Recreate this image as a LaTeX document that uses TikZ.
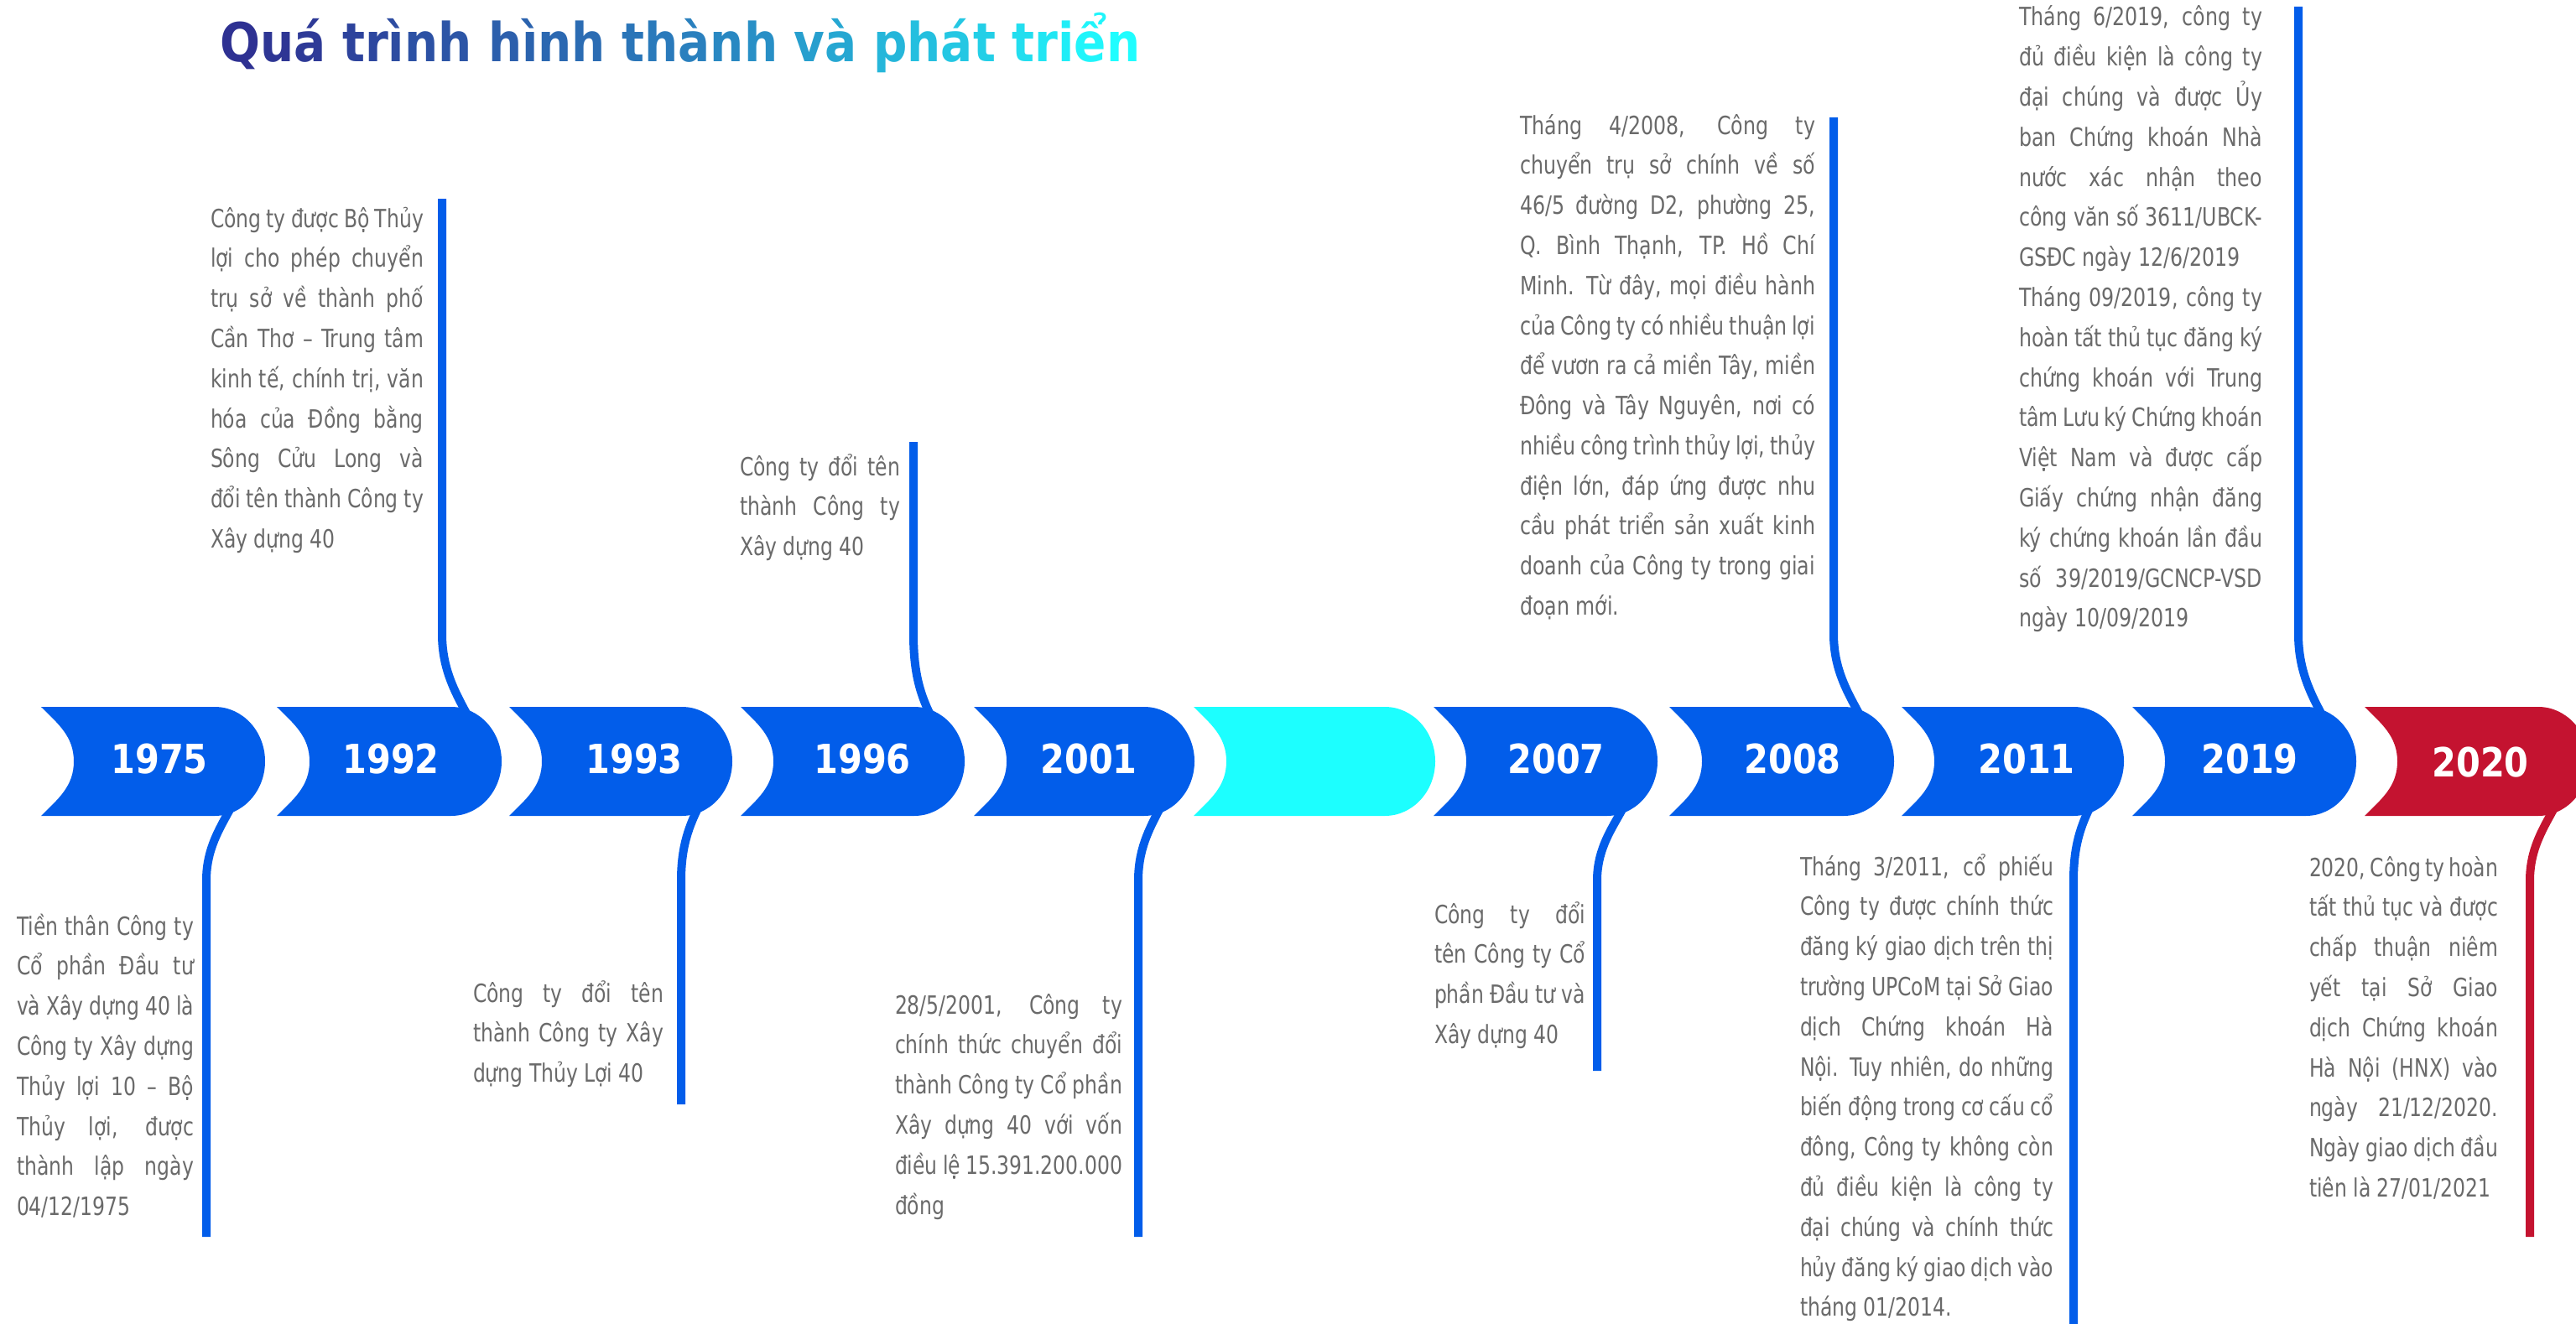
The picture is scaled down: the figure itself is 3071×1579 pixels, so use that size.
\documentclass[tikz,border=0pt]{standalone}
\usepackage{fontspec}
\newfontfamily\bodyT{DejaVu Sans Condensed}[FakeStretch=0.87]
\newfontfamily\bodyV{DejaVu Sans}[FakeStretch=0.79]
\newfontfamily\yearF{DejaVu Sans Condensed Bold}[FakeStretch=0.96]
\newfontfamily\titleF{DejaVu Sans Condensed Bold}[FakeStretch=0.98]
\definecolor{tabblue}{RGB}{2,93,234}
\definecolor{tabcyan}{RGB}{28,255,255}
\definecolor{tabred}{RGB}{196,19,48}
\definecolor{txtgray}{RGB}{106,106,106}
\definecolor{tA}{RGB}{46,49,146}
\definecolor{tM}{RGB}{42,124,188}
\definecolor{tC}{RGB}{31,253,255}
\newcommand\J[1]{\hbox to\hsize{#1}}
\newcommand\E[1]{\hbox{#1}}
\newcommand\para[2]{\vtop{\hsize=#1\relax\baselineskip=47.8pt\relax\lineskiplimit=-100pt\relax #2}}
% tab shape: #1 left corner x, #2 right bulge x, #3 colour
\newcommand\tabshape[3]{\fill[#3] (#1,843) -- ({#2-60},843) .. controls ({#2-27},843) and (#2,872) .. (#2,908) .. controls (#2,944) and ({#2-27},973) .. ({#2-60},973) -- (#1,973) .. controls ({#1+20},953) and ({#1+39},938) .. ({#1+39},908) .. controls ({#1+39},878) and ({#1+20},863) .. (#1,843) -- cycle;}
\tikzset{
  con/.style={line width=10pt},
  yr/.style={anchor=center, inner sep=0pt, text=white, font=\fontsize{48}{50}\yearF},
  txtT/.style={anchor=base west, inner sep=0pt, outer sep=0pt, text=txtgray, font=\fontsize{30}{47.8}\bodyT},
  txtV/.style={anchor=base west, inner sep=0pt, outer sep=0pt, text=txtgray, font=\fontsize{30}{47.8}\bodyV},
}
\begin{document}
\begin{tikzpicture}[x=1pt,y=-1pt]
\useasboundingbox (0,0) rectangle (3071,1579);
\fill[white] (0,0) rectangle (3071,1579);
\begin{scope}
\clip (0,0) rectangle (3071,1579);
% tabs
\tabshape{49}{316}{tabblue}
\tabshape{330}{598}{tabblue}
\tabshape{607}{873}{tabblue}
\tabshape{883}{1150}{tabblue}
\tabshape{1161}{1424}{tabblue}
\tabshape{1423}{1711}{tabcyan}
\tabshape{1709}{1976}{tabblue}
\tabshape{1990}{2258}{tabblue}
\tabshape{2267}{2532}{tabblue}
\tabshape{2542}{2809}{tabblue}
\tabshape{2819}{3086}{tabred}
% connector ends
\coordinate (e1975) at (246,1475);
\coordinate (e1992) at (527,237);
\coordinate (e1993) at (812,1317);
\coordinate (e1996) at (1089,527);
\coordinate (e2001) at (1357,1475);
\coordinate (e2007) at (1904,1277);
\coordinate (e2008) at (2186,140);
\coordinate (e2011) at (2472,1590);
\coordinate (e2019) at (2740,8);
\coordinate (e2020) at (3016,1475);
% down connectors
\draw[con,tabblue] (278,958) .. controls (264,985) and (246,1010) .. (246,1050) -- (e1975);
\draw[con,tabblue] (835,958) .. controls (821,985) and (812,1010) .. (812,1050) -- (e1993);
\draw[con,tabblue] (1386,958) .. controls (1372,985) and (1357,1010) .. (1357,1050) -- (e2001);
\draw[con,tabblue] (1938,958) .. controls (1924,985) and (1904,1010) .. (1904,1050) -- (e2007);
\draw[con,tabblue] (2494,958) .. controls (2480,985) and (2472,1010) .. (2472,1050) -- (e2011);
\draw[con,tabred] (3048,958) .. controls (3034,985) and (3016,1010) .. (3016,1050) -- (e2020);
% up connectors
\draw[con,tabblue] (560,858) .. controls (544,828) and (527,800) .. (527,756) -- (e1992);
\draw[con,tabblue] (1112,858) .. controls (1096,828) and (1089,800) .. (1089,756) -- (e1996);
\draw[con,tabblue] (2220,858) .. controls (2204,828) and (2186,800) .. (2186,756) -- (e2008);
\draw[con,tabblue] (2771,858) .. controls (2755,828) and (2740,800) .. (2740,756) -- (e2019);
\end{scope}
% years
\node[yr] (y1975) at (190,905) {1975};
\node[yr] (y1992) at (466,905) {1992};
\node[yr] (y1993) at (756,905) {1993};
\node[yr] (y1996) at (1028,905) {1996};
\node[yr] (y2001) at (1298,905) {2001};
\node[yr] (y2007) at (1855,905) {2007};
\node[yr] (y2008) at (2137,905) {2008};
\node[yr] (y2011) at (2416,905) {2011};
\node[yr] (y2019) at (2682,905) {2019};
\node[yr] (y2020) at (2957,909) {2020};
% title
\node[anchor=base west, inner sep=0pt, font=\fontsize{64}{70}\titleF] (title) at (262,74) {\textcolor{tA}{Q}\textcolor{tM!6!tA}{u}\textcolor{tM!12!tA}{á} \textcolor{tM!24!tA}{t}\textcolor{tM!30!tA}{r}\textcolor{tM!36!tA}{ì}\textcolor{tM!42!tA}{n}\textcolor{tM!48!tA}{h} \textcolor{tM!61!tA}{h}\textcolor{tM!67!tA}{ì}\textcolor{tM!73!tA}{n}\textcolor{tM!79!tA}{h} \textcolor{tM!91!tA}{t}\textcolor{tM!97!tA}{h}\textcolor{tC!3!tM}{à}\textcolor{tC!9!tM}{n}\textcolor{tC!15!tM}{h} \textcolor{tC!27!tM}{v}\textcolor{tC!33!tM}{à} \textcolor{tC!45!tM}{p}\textcolor{tC!52!tM}{h}\textcolor{tC!58!tM}{á}\textcolor{tC!64!tM}{t} \textcolor{tC!76!tM}{t}\textcolor{tC!82!tM}{r}\textcolor{tC!88!tM}{i}\textcolor{tC!94!tM}{ể}\textcolor{tC}{n}};
% text blocks
\node[txtT] (t1975) at (20,1115) {\para{211pt}{%
\J{Tiền thân Công ty}
\J{Cổ phần Đầu tư}
\J{và Xây dựng 40 là}
\J{Công ty Xây dựng}
\J{Thủy lợi 10 – Bộ}
\J{Thủy lợi, được}
\J{thành lập ngày}
\E{04/12/1975}}};
\node[txtT] (t1992) at (251,271) {\para{254pt}{%
\J{Công ty được Bộ Thủy}
\J{lợi cho phép chuyển}
\J{trụ sở về thành phố}
\J{Cần Thơ – Trung tâm}
\J{kinh tế, chính trị, văn}
\J{hóa của Đồng bằng}
\J{Sông Cửu Long và}
\J{đổi tên thành Công ty}
\E{Xây dựng 40}}};
\node[txtT] (t1993) at (564,1195) {\para{227pt}{%
\J{Công ty đổi tên}
\J{thành Công ty Xây}
\E{dựng Thủy Lợi 40}}};
\node[txtT] (t1996) at (882,567) {\para{191pt}{%
\J{Công ty đổi tên}
\J{thành Công ty}
\E{Xây dựng 40}}};
\node[txtT] (t2001) at (1067,1209) {\para{271pt}{%
\J{28/5/2001, Công ty}
\J{chính thức chuyển đổi}
\J{thành Công ty Cổ phần}
\J{Xây dựng 40 với vốn}
\J{điều lệ 15.391.200.000}
\E{đồng}}};
\node[txtT] (t2007) at (1710,1101) {\para{180pt}{%
\J{Công ty đổi}
\J{tên Công ty Cổ}
\J{phần Đầu tư và}
\E{Xây dựng 40}}};
\node[txtV] (t2008) at (1812,160) {\para{352pt}{%
\J{Tháng 4/2008, Công ty}
\J{chuyển trụ sở chính về số}
\J{46/5 đường D2, phường 25,}
\J{Q. Bình Thạnh, TP. Hồ Chí}
\J{Minh. Từ đây, mọi điều hành}
\J{của Công ty có nhiều thuận lợi}
\J{để vươn ra cả miền Tây, miền}
\J{Đông và Tây Nguyên, nơi có}
\J{nhiều công trình thủy lợi, thủy}
\J{điện lớn, đáp ứng được nhu}
\J{cầu phát triển sản xuất kinh}
\J{doanh của Công ty trong giai}
\E{đoạn mới.}}};
\node[txtT] (t2011) at (2146,1044) {\para{302pt}{%
\J{Tháng 3/2011, cổ phiếu}
\J{Công ty được chính thức}
\J{đăng ký giao dịch trên thị}
\J{trường UPCoM tại Sở Giao}
\J{dịch Chứng khoán Hà}
\J{Nội. Tuy nhiên, do những}
\J{biến động trong cơ cấu cổ}
\J{đông, Công ty không còn}
\J{đủ điều kiện là công ty}
\J{đại chúng và chính thức}
\J{hủy đăng ký giao dịch vào}
\E{tháng 01/2014.}}};
\node[txtV] (t2019) at (2407,31) {\para{290pt}{%
\J{Tháng 6/2019, công ty}
\J{đủ điều kiện là công ty}
\J{đại chúng và được Ủy}
\J{ban Chứng khoán Nhà}
\J{nước xác nhận theo}
\J{công văn số 3611/UBCK-}
\E{GSĐC ngày 12/6/2019}
\J{Tháng 09/2019, công ty}
\J{hoàn tất thủ tục đăng ký}
\J{chứng khoán với Trung}
\J{tâm Lưu ký Chứng khoán}
\J{Việt Nam và được cấp}
\J{Giấy chứng nhận đăng}
\J{ký chứng khoán lần đầu}
\J{số 39/2019/GCNCP-VSD}
\E{ngày 10/09/2019}}};
\node[txtT] (t2020) at (2753,1045) {\para{225pt}{%
\J{2020, Công ty hoàn}
\J{tất thủ tục và được}
\J{chấp thuận niêm}
\J{yết tại Sở Giao}
\J{dịch Chứng khoán}
\J{Hà Nội (HNX) vào}
\J{ngày 21/12/2020.}
\J{Ngày giao dịch đầu}
\E{tiên là 27/01/2021}}};
\end{tikzpicture}
\end{document}
